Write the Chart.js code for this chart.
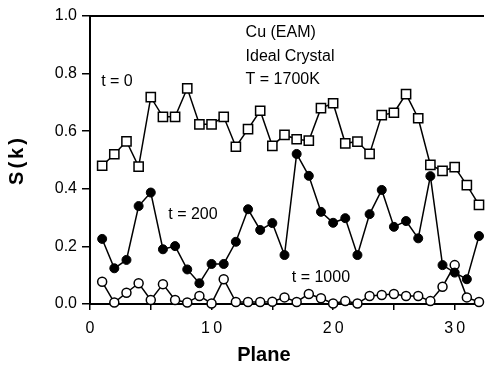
<!DOCTYPE html>
<html>
<head>
<meta charset="utf-8">
<script src="https://cdn.jsdelivr.net/npm/chart.js@4"></script>
<style>
html,body{margin:0;padding:0;background:#fff;overflow:hidden;}
#wrap{width:487px;height:366px;position:relative;}
</style>
</head>
<body>
<div id="wrap"><canvas id="c" width="487" height="366"></canvas></div>
<script>
const planes = [1,2,3,4,5,6,7,8,9,10,11,12,13,14,15,16,17,18,19,20,21,22,23,24,25,26,27,28,29,30,31,32];
const s_t0 = [0.48,0.52,0.565,0.477,0.718,0.65,0.65,0.749,0.624,0.624,0.65,0.546,0.607,0.671,0.549,0.587,0.572,0.567,0.68,0.697,0.558,0.564,0.521,0.656,0.664,0.729,0.645,0.483,0.462,0.475,0.413,0.344];
const s_t200 = [0.226,0.124,0.153,0.34,0.387,0.19,0.201,0.12,0.072,0.139,0.139,0.216,0.329,0.257,0.281,0.17,0.521,0.445,0.32,0.282,0.298,0.17,0.312,0.396,0.268,0.288,0.228,0.444,0.135,0.109,0.086,0.236];
const s_t1000 = [0.077,0.005,0.039,0.072,0.014,0.069,0.014,0.005,0.028,0.002,0.086,0.007,0.007,0.007,0.008,0.023,0.007,0.035,0.02,0.002,0.01,0.002,0.028,0.031,0.035,0.028,0.028,0.01,0.06,0.135,0.023,0.007];
const yTicks = [0, 0.2, 0.4, 0.6, 0.8, 1.0];
const xLabelTicks = [0, 10, 20, 30];

const FONT = "'Liberation Sans', Arial, Helvetica, sans-serif";

function toXY(ys){ return planes.map((p,i)=>({x:p,y:ys[i]})); }

const annotations = {
  id:'annotations',
  afterDraw(chart){
    const {ctx, chartArea:a, scales:{x,y}} = chart;
    ctx.save();
    ctx.strokeStyle='#000'; ctx.lineWidth=2;
    ctx.beginPath(); ctx.moveTo(a.left, y.getPixelForValue(1.0)); ctx.lineTo(a.right+5, y.getPixelForValue(1.0)); ctx.stroke();
    ctx.fillStyle='#000';
    ctx.font = "16px " + FONT;
    ctx.textAlign='left'; ctx.textBaseline='middle';
    const txt = [
      ['Cu (EAM)', 12.8, 0.941],
      ['Ideal Crystal', 12.8, 0.860],
      ['T = 1700K', 12.8, 0.779],
      ['t = 0', 0.92, 0.773],
      ['t = 200', 6.44, 0.312],
      ['t = 1000', 16.6, 0.091]
    ];
    txt.forEach(([t,xv,yv])=>ctx.fillText(t, x.getPixelForValue(xv), y.getPixelForValue(yv)));
    ctx.font = "bold 20px " + FONT;
    ctx.textAlign='center';
    ctx.fillText('Plane', x.getPixelForValue(14.3), a.bottom + 51);
    ctx.translate(17, (a.top + a.bottom)/2);
    ctx.rotate(-Math.PI/2);
    ctx.letterSpacing = '3px';
    ctx.fillText('S(k)', 0, 0);
    ctx.restore();
  }
};

new Chart(document.getElementById('c'), {
  type:'line',
  data:{
    datasets:[
      {label:'t = 0', data:toXY(s_t0), borderColor:'#000', borderWidth:1.5, pointStyle:'rect', pointRadius:6.5, pointBackgroundColor:'#fff', pointBorderColor:'#000', pointBorderWidth:1.5, clip:false, tension:0},
      {label:'t = 200', data:toXY(s_t200), borderColor:'#000', borderWidth:1.5, pointStyle:'circle', pointRadius:4.5, pointBackgroundColor:'#000', pointBorderColor:'#000', pointBorderWidth:1, clip:false, tension:0},
      {label:'t = 1000', data:toXY(s_t1000), borderColor:'#000', borderWidth:1.5, pointStyle:'circle', pointRadius:4.5, pointBackgroundColor:'#fff', pointBorderColor:'#000', pointBorderWidth:1.5, clip:false, tension:0}
    ]
  },
  options:{
    responsive:false,
    animation:false,
    layout:{padding:{top:16, right:0, left:0, bottom:0}},
    plugins:{legend:{display:false}, tooltip:{enabled:false}},
    scales:{
      x:{
        type:'linear', min:0, max:32,
        afterFit(s){ s.height = 62; },
        grid:{drawOnChartArea:false, drawTicks:true, tickLength:6, color:'#000', lineWidth:1.5},
        border:{color:'#000', width:2},
        ticks:{stepSize:5, includeBounds:false, autoSkip:false, maxRotation:0, padding:9, color:'#000',
          font:{family:FONT, size:16},
          callback:(v)=> xLabelTicks.includes(v) ? String(v).split('').join('\u2009') : ''}
      },
      y:{
        type:'linear', min:0, max:1,
        afterFit(s){ s.width = 90; },
        grid:{drawOnChartArea:false, drawTicks:true, tickLength:8, color:'#000', lineWidth:1.5},
        border:{color:'#000', width:2},
        afterBuildTicks(s){ s.ticks = yTicks.map(v=>({value:v})); },
        ticks:{padding:5, color:'#000', font:{family:FONT, size:16},
          callback:(v)=> v.toFixed(1)}
      }
    }
  },
  plugins:[annotations]
});
</script>
</body>
</html>
